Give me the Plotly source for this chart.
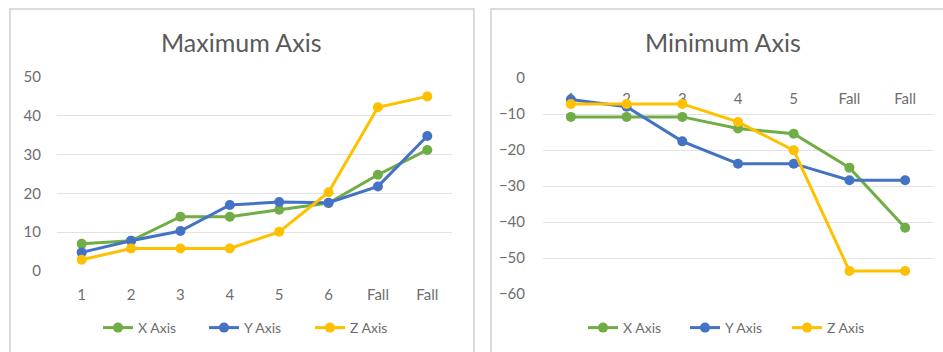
import plotly.graph_objects as go

W, H = 943, 352

# Category labels for each panel
cats_max = ["1", "2", "3", "4", "5", "6", "Fall", "Fall"]
cats_min = ["1", "2", "3", "4", "5", "Fall", "Fall"]

# Maximum Axis panel values
max_x = [7.0, 7.8, 14.0, 14.0, 15.8, 17.5, 24.8, 31.2]
max_y = [4.8, 7.8, 10.3, 17.0, 17.8, 17.6, 21.8, 34.8]
max_z = [2.9, 5.8, 5.8, 5.8, 10.1, 20.3, 42.2, 45.0]

# Minimum Axis panel values
min_x = [-10.8, -10.8, -10.8, -14.0, -15.5, -24.9, -41.6]
min_y = [-6.0, -8.0, -17.6, -23.8, -23.8, -28.4, -28.4]
min_z = [-7.2, -7.2, -7.2, -12.2, -20.1, -53.6, -53.6]

series_names = ["X Axis", "Y Axis", "Z Axis"]
colors = ["#70AD47", "#4472C4", "#FFC000"]

FONT = "Lato, 'Open Sans', sans-serif"
TXT = "#6E6E6E"
GRID = "#E3E3E3"


def px_x(v):
    return v / W


def px_y(v):
    return (H - v) / H


fig = go.Figure()

for name, vals, col in zip(series_names, [max_x, max_y, max_z], colors):
    fig.add_trace(go.Scatter(
        x=list(range(len(cats_max))), y=vals, name=name,
        mode="lines+markers",
        line=dict(color=col, width=3),
        marker=dict(color=col, size=10),
        xaxis="x", yaxis="y", legend="legend", cliponaxis=False,
    ))

for name, vals, col in zip(series_names, [min_x, min_y, min_z], colors):
    fig.add_trace(go.Scatter(
        x=list(range(len(cats_min))), y=vals, name=name,
        mode="lines+markers",
        line=dict(color=col, width=3),
        marker=dict(color=col, size=10),
        xaxis="x2", yaxis="y2", legend="legend2", cliponaxis=False,
    ))

tickfont = dict(family=FONT, size=15, color=TXT)
legfont = dict(family=FONT, size=14, color=TXT)

fig.update_layout(
    width=W, height=H,
    margin=dict(l=0, r=0, t=0, b=0, autoexpand=False),
    paper_bgcolor="white", plot_bgcolor="white",
    font=dict(family=FONT, color=TXT),
    xaxis=dict(
        domain=[px_x(57), px_x(452)], range=[-0.5, len(cats_max) - 0.5],
        tickvals=list(range(len(cats_max))), ticktext=cats_max,
        showgrid=False, zeroline=False, showline=False,
        ticks="outside", ticklen=10, tickcolor="rgba(0,0,0,0)",
        tickfont=tickfont, anchor="y", fixedrange=True,
    ),
    yaxis=dict(
        domain=[px_y(271), px_y(77)], range=[0, 50], dtick=10,
        showgrid=True, gridcolor=GRID, gridwidth=1,
        zeroline=False, showline=False,
        ticks="outside", ticklen=12, tickcolor="rgba(0,0,0,0)",
        tickfont=tickfont, anchor="x",
    ),
    xaxis2=dict(
        domain=[px_x(543), px_x(933)], range=[-0.5, len(cats_min) - 0.5],
        tickvals=list(range(len(cats_min))), ticktext=cats_min,
        showgrid=False, zeroline=False, showline=False,
        ticks="outside", ticklen=7, tickcolor="rgba(0,0,0,0)",
        tickfont=tickfont, anchor="free", position=px_y(78), side="bottom",
        layer="below traces",
    ),
    yaxis2=dict(
        domain=[px_y(294), px_y(78)], range=[-60, 0], dtick=10,
        showgrid=True, gridcolor=GRID, gridwidth=1,
        zeroline=False, showline=False,
        ticks="outside", ticklen=14, tickcolor="rgba(0,0,0,0)",
        tickfont=tickfont, anchor="x2",
    ),
    legend=dict(
        orientation="h", x=px_x(98), xanchor="left",
        y=px_y(328), yanchor="middle",
        entrywidth=61, entrywidthmode="pixels",
        font=legfont, bgcolor="rgba(0,0,0,0)",
    ),
    legend2=dict(
        orientation="h", x=px_x(583), xanchor="left",
        y=px_y(328), yanchor="middle",
        entrywidth=57, entrywidthmode="pixels",
        font=legfont, bgcolor="rgba(0,0,0,0)",
    ),
    showlegend=True,
)

# Chart borders
fig.add_shape(type="rect", xref="paper", yref="paper",
              x0=px_x(10), x1=px_x(474), y0=px_y(360), y1=px_y(9),
              line=dict(color="#D0D0D0", width=1.5), layer="below")
fig.add_shape(type="rect", xref="paper", yref="paper",
              x0=px_x(491), x1=px_x(960), y0=px_y(360), y1=px_y(9),
              line=dict(color="#D0D0D0", width=1.5), layer="below")

# Panel titles
fig.add_annotation(text="Maximum Axis", xref="paper", yref="paper",
                   x=px_x(242), y=px_y(42), showarrow=False,
                   xanchor="center", yanchor="middle",
                   font=dict(family=FONT, size=25, color="#5A5A5A"))
fig.add_annotation(text="Minimum Axis", xref="paper", yref="paper",
                   x=px_x(723), y=px_y(42), showarrow=False,
                   xanchor="center", yanchor="middle",
                   font=dict(family=FONT, size=25, color="#5A5A5A"))

fig.write_html("out.html")
